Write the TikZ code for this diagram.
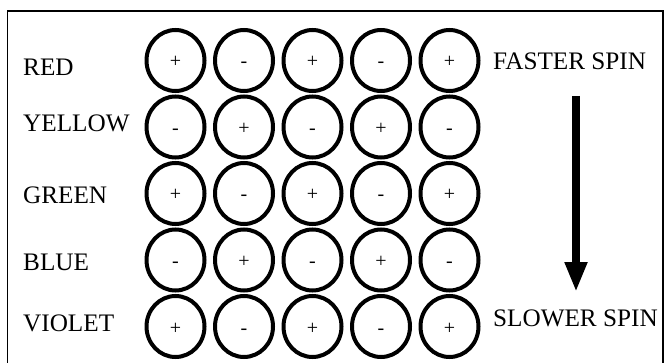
\documentclass[tikz,border=0pt]{standalone}
\usepackage{fontspec}
\setmainfont{Liberation Serif}
\usetikzlibrary{shapes.geometric,arrows.meta}
\tikzset{
  spot/.style={ellipse, draw, line width=4pt, minimum width=58pt, minimum height=61pt,
    inner sep=0pt, text height=15pt, text depth=0pt, font=\fontsize{20}{20}\selectfont},
  colourname/.style={anchor=west, inner sep=0pt, font=\fontsize{25.2}{30}\selectfont},
}
\begin{document}
\begin{tikzpicture}[x=1pt,y=-1pt]
  \useasboundingbox (0,0) rectangle (671,363);
  \draw[line width=1.2pt] (7.5,363) -- (7.5,11) -- (663,11) -- (663,363);
  \foreach \name/\ly in {RED/67,YELLOW/123,GREEN/195.5,BLUE/262,VIOLET/323}
    \node[colourname] (\name) at (23,\ly) {\name};
  \foreach \r in {1,...,5}
    \foreach \c in {1,...,5} {
      \pgfmathtruncatemacro\k{\r+\c}
      \node[spot] (s-\r-\c) at ({175.5+68.5*(\c-1)},{60.5+66.5*(\r-1)}) {\ifodd\k -\else +\fi};
    }
  \node[colourname] (fast) at (493,61) {FASTER SPIN};
  \node[colourname] (slow) at (493,318.7) {SLOWER SPIN};
  \coordinate (hi) at (576,96);
  \coordinate (lo) at (576,292);
  \draw[line width=8pt, -{Triangle[length=30pt,width=21pt]}] (hi) -- (lo);
\end{tikzpicture}
\end{document}
